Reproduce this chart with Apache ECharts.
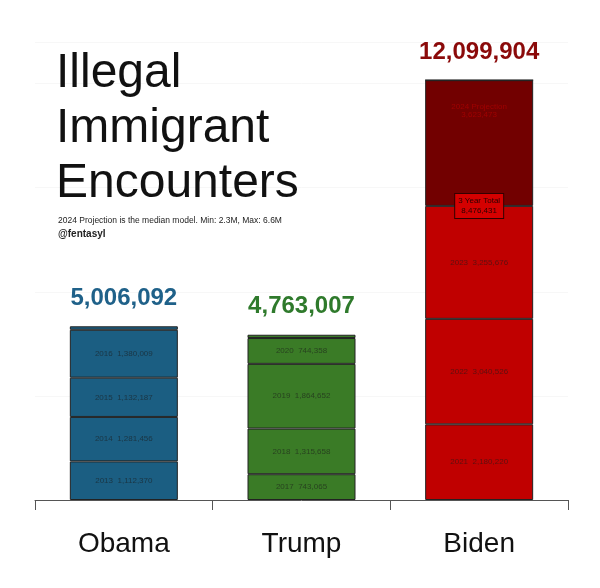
<!DOCTYPE html>
<html><head><meta charset="utf-8">
<script src="https://cdn.jsdelivr.net/npm/echarts@6/dist/echarts.min.js"></script>
<style>html,body{margin:0;background:#fff}#c{width:600px;height:588px}</style>
</head><body><div id="c"></div>
<script>
const categories = ['Obama', 'Trump', 'Biden'];
const totals = [5006092, 4763007, 12099904];
const obamaYears = ['2013', '2014', '2015', '2016', ''];
const obamaValues = [1112370, 1281456, 1132187, 1380009, 100070];
const trumpYears = ['2017', '2018', '2019', '2020', ''];
const trumpValues = [743065, 1315658, 1864652, 744358, 95274];
const bidenYears = ['2021', '2022', '2023', '2024 Projection', ''];
const bidenValues = [2180220, 3040526, 3255676, 3623473, 0];
const threeYearTotal = 8476431;

const fill = ['#1b5e82', '#3a7b26', '#c00000'];
const projFill = '#720000';
const totalColors = ['#1f6189', '#2f7a2c', '#8b0a0a'];
const fmt = v => v.toLocaleString('en-US');

const groups = [[obamaYears, obamaValues], [trumpYears, trumpValues], [bidenYears, bidenValues]];
const series = [];
for (let k = 0; k < 5; k++) {
  series.push({
    type: 'bar', stack: 's', barWidth: 108, silent: true,
    data: groups.map((g, i) => {
      const yr = g[0][k], v = g[1][k];
      const isProj = i === 2 && k === 3;
      return {
        value: v,
        itemStyle: { color: isProj ? projFill : fill[i], borderColor: '#222', borderWidth: 1 },
        label: {
          show: yr !== '', color: isProj ? '#a00000' : '#1a1a1a', opacity: isProj ? 1 : 0.6, fontSize: 8,
          position: isProj ? ['50%', '18%'] : 'inside', align: 'center',
          formatter: isProj ? yr + '\n' + fmt(v) : yr + '  ' + fmt(v)
        }
      };
    })
  });
}
series[3].markPoint = {
  symbolSize: 0, silent: true,
  data: [{ coord: ['Biden', threeYearTotal],
    label: { show: true, formatter: '3 Year Total\n' + fmt(threeYearTotal), fontSize: 8, color: '#2a0000',
      backgroundColor: '#d40000', borderColor: '#300', borderWidth: 1, padding: [2, 3], lineHeight: 10, align: 'center', verticalAlign: 'middle' } }]
};
series[4].markPoint = {
  symbolSize: 0, silent: true,
  data: totals.map((t, i) => ({ coord: [categories[i], t],
    label: { show: true, position: 'top', distance: 16, formatter: fmt(t), fontSize: 24, fontWeight: 'bold', color: totalColors[i], opacity: 1 } }))
};

const chart = echarts.init(document.getElementById('c'));
chart.setOption({
  animation: false,
  textStyle: { fontFamily: 'Liberation Sans, Arial, sans-serif' },
  grid: { left: 35, right: 32, top: 42, bottom: 88 },
  xAxis: { type: 'category', data: categories,
    axisLine: { lineStyle: { color: '#555' } }, axisTick: { show: true, length: 10, lineStyle: { color: '#555' } },
    axisLabel: { fontSize: 28, color: '#111', margin: 30 } },
  yAxis: { type: 'value', min: 0, max: 13200000, axisLabel: { show: false },
    splitLine: { lineStyle: { color: '#f7f7f7' } } },
  graphic: [
    { type: 'text', left: 56, top: 46, z: 100, style: { text: 'Illegal\nImmigrant\nEncounters', fontSize: 48, lineHeight: 55, fill: '#111', fontFamily: 'Liberation Sans, Arial' } },
    { type: 'text', left: 58, top: 216, z: 100, style: { text: '2024 Projection is the median model. Min: 2.3M, Max: 6.6M', fontSize: 8.5, fill: '#222' } },
    { type: 'text', left: 58, top: 229, z: 100, style: { text: '@fentasyl', fontSize: 10, fontWeight: 'bold', fill: '#222' } }
  ],
  series
});
</script></body></html>
